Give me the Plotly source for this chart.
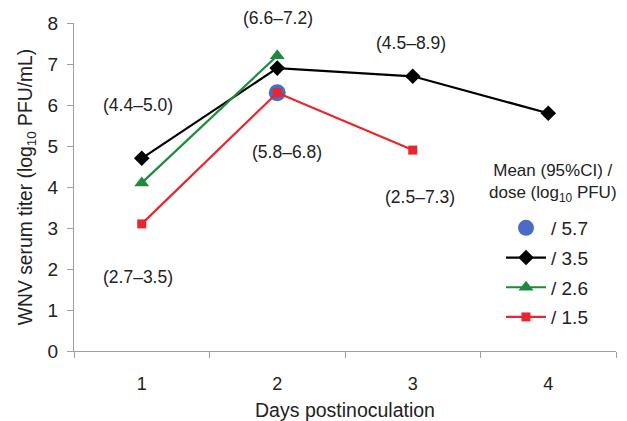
import plotly.graph_objects as go

days = ["1", "2", "3", "4"]
dose_5_7 = [None, 6.3, None, None]
dose_3_5 = [4.7, 6.9, 6.7, 5.8]
dose_2_6 = [4.1, 7.2, None, None]
dose_1_5 = [3.1, 6.3, 4.9, None]

legend_labels = ["/ 5.7", "/ 3.5", "/ 2.6", "/ 1.5"]
ci_labels = ["(6.6–7.2)", "(4.4–5.0)", "(4.5–8.9)", "(5.8–6.8)", "(2.5–7.3)", "(2.7–3.5)"]
ci_pos = [(1.005, 8.12), (-0.03, 6.0), (1.99, 7.51), (1.07, 4.85), (2.05, 3.76), (-0.03, 1.80)]
Y_MAX = 8

FONT = "Liberation Sans, Arial, sans-serif"
OFF = 8  # default page body margin
W, H = 627 - OFF, 421 - OFF
L, T = 74 - OFF, 23 - OFF
PW, PH = 542, 328
R = W - L - PW
B = H - T - PH


def px_x(sx):
    return (sx - OFF - L) / PW


def px_y(sy):
    return (T + PH - (sy - OFF)) / PH


fig = go.Figure()

fig.add_trace(go.Scatter(x=days, y=dose_5_7, mode="markers", name=legend_labels[0],
                         legendgroup="a",
                         marker=dict(symbol="circle", size=17, color="#4a6cc4")))
fig.add_trace(go.Scatter(x=days, y=dose_3_5, mode="lines+markers", name=legend_labels[1],
                         legendgroup="b",
                         line=dict(color="#000000", width=2.2),
                         marker=dict(symbol="diamond", size=12, color="#000000")))
fig.add_trace(go.Scatter(x=days, y=dose_2_6, mode="lines+markers", name=legend_labels[2],
                         legendgroup="c",
                         line=dict(color="#1f8a3c", width=2.2),
                         marker=dict(symbol="triangle-up", size=13, color="#1f8a3c")))
fig.add_trace(go.Scatter(x=days, y=dose_1_5, mode="lines+markers", name=legend_labels[3],
                         legendgroup="d",
                         line=dict(color="#e8262b", width=2.2),
                         marker=dict(symbol="square", size=9, color="#e8262b")))

for txt, (xp, yp) in zip(ci_labels, ci_pos):
    fig.add_annotation(x=xp, y=yp / Y_MAX, xref="x", yref="paper", text=txt, showarrow=False,
                       xanchor="center", yanchor="middle",
                       font=dict(size=17.5, color="#222222", family=FONT))

fig.add_annotation(x=px_x(553), y=px_y(183), xref="paper", yref="paper",
                   xanchor="center", yanchor="middle",
                   text="Mean (95%CI) /<br>dose (log<sub>10</sub> PFU)", showarrow=False,
                   align="center", font=dict(size=17, color="#222222", family=FONT))

fig.update_layout(
    width=W, height=H,
    margin=dict(l=L, r=R, t=T, b=B, autoexpand=False),
    paper_bgcolor="white", plot_bgcolor="white",
    font=dict(family=FONT, color="#222222"),
    showlegend=True,
    legend=dict(x=px_x(501), y=px_y(209), xanchor="left", yanchor="top",
                font=dict(size=19, family=FONT, color="#222222"),
                traceorder="grouped", tracegroupgap=2,
                bgcolor="rgba(0,0,0,0)", itemwidth=40),
    xaxis=dict(type="category", range=[-0.5, 3.5], tickson="boundaries",
               ticks="outside", ticklen=6, tickcolor="#a0a0a0", automargin=True,
               showline=True, linecolor="#a0a0a0", linewidth=1, showgrid=False,
               zeroline=False, tickfont=dict(size=18), ticklabelstandoff=16,
               title=dict(text="Days postinoculation", font=dict(size=19.5), standoff=11)),
    yaxis=dict(range=[0, Y_MAX], dtick=1, ticks="outside", ticklen=6, tickcolor="#a0a0a0",
               showline=True, linecolor="#a0a0a0", linewidth=1, showgrid=False,
               zeroline=False, tickfont=dict(size=19), automargin=False,
               ticklabelstandoff=5,
               title=dict(text="WNV serum titer (log<sub>10</sub> PFU/mL)",
                          font=dict(size=19.3), standoff=9)),
)

fig.write_html("out.html")
